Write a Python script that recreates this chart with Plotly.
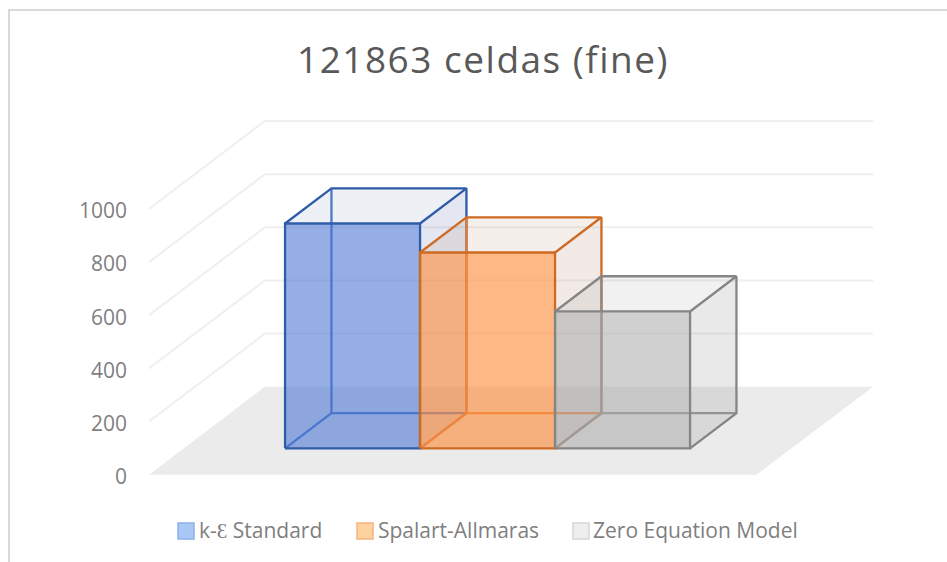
import plotly.graph_objects as go

title = "121863 celdas (fine)"
series = ["k-Ɛ Standard", "Spalart-Allmaras", "Zero Equation Model"]
values = [846, 737, 515]
ticks = [0, 200, 400, 600, 800, 1000]

W, H = 947, 562
FONT = "Open Sans"
X0, BARW = 149, 135          # px of floor front-left corner; px per bar width
Y0, VSCALE = 474.7, 0.2657   # px of value 0 on the front plane; px per value unit
DX, DY = 116, 88             # px shift of full depth
PLOT_L = 128
FLOOR_W = 4.505              # floor width in bar widths
GAP = 0.75                   # gap before the first bar, in bar widths
D0, D1 = 0.3, 0.7            # depth range of the bars
LEFT_PAD = (X0 - PLOT_L) / BARW
EDGE_W = 2.3

styles = [
    dict(front="rgba(72,118,212,0.58)", top="rgba(60,90,140,0.09)", side="rgba(61,86,155,0.14)",
         edge="#2f5ba8", back="rgba(68,114,196,0.95)", sw="#a9c8f6", swl="#8db0ea"),
    dict(front="rgba(253,140,60,0.62)", top="rgba(150,100,60,0.10)", side="rgba(150,90,60,0.13)",
         edge="#cf6a22", back="rgba(237,125,49,0.95)", sw="#ffd3a0", swl="#f7b27c"),
    dict(front="rgba(170,170,170,0.55)", top="rgba(120,120,120,0.10)", side="rgba(120,120,120,0.16)",
         edge="#858585", back="rgba(140,140,140,0.90)", sw="#eeeeee", swl="#d6d6d6"),
]
GRID = "#efefef"
FLOOR = "#ebebeb"
TXT = "#7f7f7f"


def proj(u, v, d):
    """bar-width position, value and depth -> axis coordinates"""
    return u + d * DX / BARW, v + d * DY / VSCALE


def poly(points, fill=None, line=None, width=0, name=None):
    xs, ys = zip(*[proj(*p) for p in points])
    return go.Scatter(
        x=xs, y=ys, mode="lines", hoverinfo="skip" if name is None else "name",
        name=name or "", showlegend=False,
        fill="toself" if fill else None, fillcolor=fill,
        line=dict(color=line or "rgba(0,0,0,0)", width=width),
    )


fig = go.Figure()

# floor and walls
fig.add_trace(poly([(0, 0, 0), (4.5, 0, 0), (FLOOR_W, 0, 1), (0, 0, 1), (0, 0, 0)], fill=FLOOR))
for t in ticks[1:]:
    fig.add_trace(poly([(0, t, 0), (0, t, 1), (FLOOR_W, t, 1)], line=GRID, width=2))

# boxes
for i, (name, v, st) in enumerate(zip(series, values, styles)):
    a, b = GAP + i, GAP + i + 1
    fig.add_trace(poly([(a, v, D0), (b, v, D0), (b, v, D1), (a, v, D1), (a, v, D0)], fill=st["top"]))
    fig.add_trace(poly([(b, 0, D0), (b, v, D0), (b, v, D1), (b, 0, D1), (b, 0, D0)], fill=st["side"]))
    # hidden edges
    fig.add_trace(poly([(a, 0, D0), (a, 0, D1), (b, 0, D1)], line=st["back"], width=EDGE_W))
    fig.add_trace(poly([(a, 0, D1), (a, v, D1)], line=st["back"], width=EDGE_W))
    # front face
    fig.add_trace(poly([(a, 0, D0), (b, 0, D0), (b, v, D0), (a, v, D0), (a, 0, D0)],
                       fill=st["front"], line=st["edge"], width=EDGE_W, name=name))
    # visible edges
    fig.add_trace(poly([(a, v, D0), (a, v, D1), (b, v, D1), (b, v, D0)], line=st["edge"], width=EDGE_W))
    fig.add_trace(poly([(b, v, D1), (b, 0, D1), (b, 0, D0)], line=st["edge"], width=EDGE_W))

fy = 1 - 10 / H
fx = 9 / W
shapes = [dict(type="path", xref="paper", yref="paper",
               path=f"M {fx} 0 L {fx} {fy} L 1 {fy}",
               line=dict(color="#d9d9d9", width=2), layer="below")]

# legend
swatch_x = [178, 357, 573]
label_x = [197, 376, 591]
annotations = [dict(text=title, x=483 / W, y=1 - 58 / H, xref="paper", yref="paper",
                    xanchor="center", yanchor="middle", showarrow=False,
                    font=dict(family=FONT, size=37, color="#595959"))]
for name, sx, lx, st in zip(series, swatch_x, label_x, styles):
    shapes.append(dict(type="rect", xref="paper", yref="paper",
                       x0=sx / W, x1=(sx + 16) / W, y0=1 - 539 / H, y1=1 - 523 / H,
                       fillcolor=st["sw"], line=dict(color=st["swl"], width=1.5)))
    annotations.append(dict(text=name, x=lx / W, y=1 - 530 / H, xref="paper", yref="paper",
                            xanchor="left", yanchor="middle", showarrow=False,
                            font=dict(family=FONT, size=21, color=TXT)))

fig.update_layout(
    width=W, height=H, margin=dict(l=0, r=0, t=0, b=0),
    paper_bgcolor="white", plot_bgcolor="rgba(0,0,0,0)",
    showlegend=False, shapes=shapes, annotations=annotations,
    xaxis=dict(domain=[PLOT_L / W, 1], range=[-LEFT_PAD, (W - X0) / BARW],
               visible=False, fixedrange=True),
    yaxis=dict(range=[(Y0 - H) / VSCALE, Y0 / VSCALE], tickvals=ticks,
               ticktext=[str(t) for t in ticks], showgrid=False, zeroline=False,
               showline=False, ticks="", ticklabelstandoff=0, ticklabelshift=2,
               tickfont=dict(family=FONT, size=21, color=TXT), fixedrange=True),
)

fig.write_html("out.html", config={"displayModeBar": False},
               post_script="document.body.style.margin='0';"
                           "document.documentElement.style.overflow='hidden';"
                           "var t=document.querySelector('.annotation-text');"
                           "if(t){t.style.letterSpacing='1.5px';}")
